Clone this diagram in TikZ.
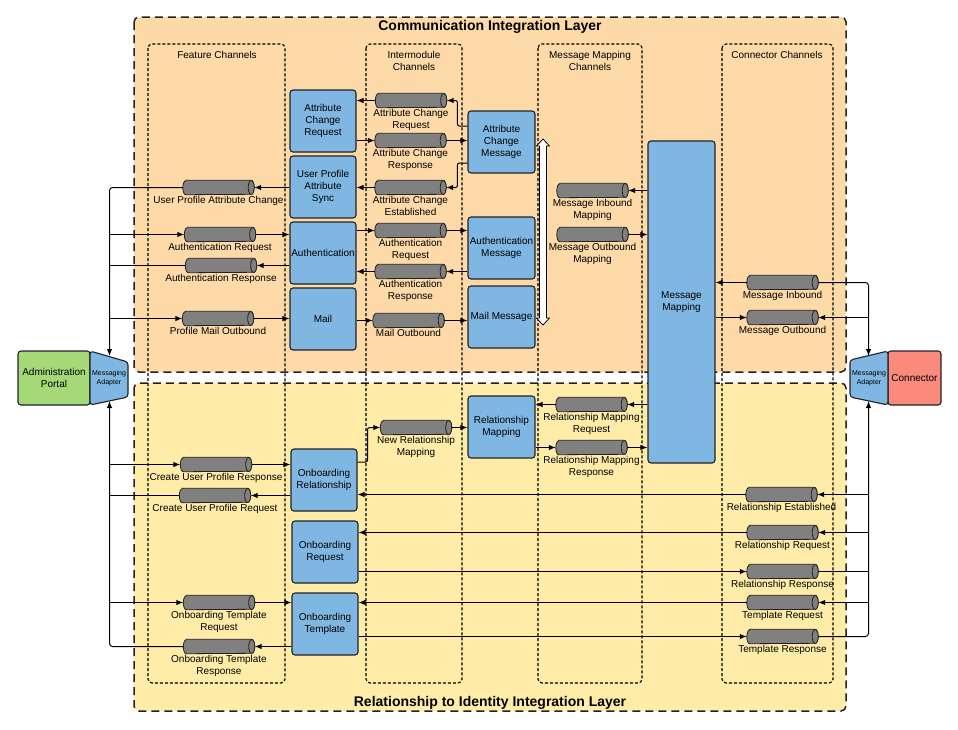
\documentclass[tikz,border=0pt]{standalone}
\usepackage{fontspec}
\setmainfont{Liberation Sans}
\usetikzlibrary{arrows.meta,calc}
\definecolor{commfill}{HTML}{FDDAA8}
\definecolor{relfill}{HTML}{FFECA8}
\definecolor{boxblue}{HTML}{7FB7E2}
\definecolor{portalgreen}{HTML}{A5D978}
\definecolor{connred}{HTML}{F98A7C}
\definecolor{pipegray}{HTML}{808080}
\definecolor{edge}{HTML}{222222}
\newcommand\dfLabel{\fontsize{10}{12}\selectfont}
\newcommand\dfTitle{\fontsize{14}{16}\selectfont\bfseries}
\newcommand\dfTiny{\fontsize{7}{8.5}\selectfont}

\begin{document}
\begin{tikzpicture}[x=1pt,y=-1pt,
  layer/.style={draw=edge, line width=1.5pt, dash pattern=on 8pt off 5pt, rounded corners=5pt},
  column/.style={draw=black, line width=1.1pt, dash pattern=on 3pt off 2pt, rounded corners=4pt},
  module/.style={draw=edge, fill=boxblue, line width=1.1pt, rounded corners=3pt,
    minimum width=66pt, minimum height=62pt, inner sep=1pt, align=center, font=\dfLabel},
  pipe/.style={rectangle, minimum width=71pt, minimum height=14pt, inner sep=0pt, label distance=1.5pt},
  pipebody/.style={draw=edge, fill=pipegray, line width=0.8pt},
  tag/.style={align=center, font=\dfLabel, inner sep=1pt},
  flow/.style={draw=black, line width=1pt, -{Latex[length=7pt,width=5.5pt]}},
  link/.style={draw=black, line width=1pt},
]
\useasboundingbox (0,0) rectangle (958,729);

% integration layers
\draw[layer, fill=commfill] (134,17) rectangle (846,372);
\draw[layer, fill=relfill] (134,383) rectangle (846,711);
\node[font=\dfTitle] (commtitle) at (490,27) {Communication Integration Layer};
\node[font=\dfTitle] (reltitle) at (490,703) {Relationship to Identity Integration Layer};

% channel columns
\draw[column] (148,44) rectangle (285,683);
\draw[column] (366,44) rectangle (462,683);
\draw[column] (538,44) rectangle (642,683);
\draw[column] (722,44) rectangle (833,683);
\node[tag] (hfeat) at (217,55) {Feature Channels};
\node[tag] (hinter) at (414,61) {Intermodule\\Channels};
\node[tag] (hmap) at (590,61) {Message Mapping\\Channels};
\node[tag] (hconn) at (777,55) {Connector Channels};

% portal, connector and their adapters
\node[draw=edge, fill=portalgreen, line width=1.1pt, rounded corners=3pt, minimum width=72pt,
  minimum height=54pt, align=center, font=\dfLabel] (portal) at (54,378) {Administration\\Portal};
\node[draw=edge, fill=connred, line width=1.1pt, rounded corners=3pt, minimum width=53pt,
  minimum height=54pt, font=\dfLabel] (conn) at (914.5,378) {Connector};
\draw[draw=edge, fill=boxblue, line width=1.1pt, rounded corners=3pt]
  (90,351) -- (128,362) -- (128,397) -- (90,405) -- cycle;
\draw[draw=edge, fill=boxblue, line width=1.1pt, rounded corners=3pt]
  (888,351) -- (850,360) -- (850,397) -- (888,405) -- cycle;
\node[font=\dfTiny, align=center, inner sep=0pt] (adl) at (109,378) {Messaging\\Adapter};
\node[font=\dfTiny, align=center, inner sep=0pt] (adr) at (869,378) {Messaging\\Adapter};
\coordinate (lt) at (109.5,356);
\coordinate (lb) at (109.5,401);
\coordinate (rt) at (868.5,356);
\coordinate (rb) at (868.5,401);

% modules
\node[module] (acr)  at (323,121) {Attribute\\Change\\Request};
\node[module] (upas) at (323,187) {User Profile\\Attribute\\Sync};
\node[module] (auth) at (323,253) {Authentication};
\node[module] (mail) at (323,319) {Mail};
\node[module, minimum width=67pt] (acm) at (501.5,142) {Attribute\\Change\\Message};
\node[module, minimum width=67pt] (am)  at (501.5,248) {Authentication\\Message};
\node[module, minimum width=67pt] (mm)  at (501.5,317) {Mail Message};
\node[module, minimum width=67pt, minimum height=322pt] (mmap) at (681.5,302) {Message\\Mapping};
\node[module, minimum width=67pt] (rm)  at (501.5,427) {Relationship\\Mapping};
\node[module] (obrel) at (324,480) {Onboarding\\Relationship};
\node[module] (obreq) at (325,552) {Onboarding\\Request};
\node[module] (obtpl) at (325,624) {Onboarding\\Template};

% channels (placeholders; the cylinders are drawn below)
\node[pipe, label={[tag]below:User Profile Attribute Change}] (upac) at (218.5,187.5) {};
\node[pipe, label={[tag]below:Authentication Request}] (authreqF) at (220,234.5) {};
\node[pipe, label={[tag]below:Authentication Response}] (authrespF) at (221,265.5) {};
\node[pipe, label={[tag]below:Profile Mail Outbound}] (mailF) at (218,318.5) {};
\node[pipe, label={[tag]below:Attribute Change\\Request}] (acreq) at (411,100.5) {};
\node[pipe, label={[tag]below:Attribute Change\\Response}] (acresp) at (410.5,140.5) {};
\node[pipe, label={[tag]below:Attribute Change\\Established}] (acest) at (410.5,187.5) {};
\node[pipe, label={[tag]below:Authentication\\Request}] (authreqI) at (410.5,230.5) {};
\node[pipe, label={[tag]below:Authentication\\Response}] (authrespI) at (410.5,271.5) {};
\node[pipe, label={[tag]below:Mail Outbound}] (mailI) at (408.5,320.5) {};
\node[pipe, label={[tag]below:Message Inbound\\Mapping}] (mib) at (592.5,190.5) {};
\node[pipe, label={[tag]below:Message Outbound\\Mapping}] (mob) at (592.5,234.5) {};
\node[pipe, label={[tag]below:Message Inbound}] (minb) at (782.5,282.5) {};
\node[pipe, label={[tag]below:Message Outbound}] (moutb) at (782.5,317.5) {};
\node[pipe, label={[tag]below:New Relationship\\Mapping}] (nrm) at (416,427.5) {};
\node[pipe, label={[tag]below:Relationship Mapping\\Request}] (rmreq) at (591.5,404.5) {};
\node[pipe, label={[tag]below:Relationship Mapping\\Response}] (rmresp) at (591.5,447.5) {};
\node[pipe, label={[tag]below:Create User Profile Response}] (cupresp) at (216,464.5) {};
\node[pipe, label={[tag]below:Create User Profile Request}] (cupreq) at (215,495.5) {};
\node[pipe, label={[tag]below:Onboarding Template\\Request}] (otreq) at (219,602.5) {};
\node[pipe, label={[tag]below:Onboarding Template\\Response}] (otresp) at (219,646.5) {};
\node[pipe, label={[tag]below:Relationship Established}] (relest) at (781.5,494.5) {};
\node[pipe, label={[tag]below:Relationship Request}] (relreq) at (782.5,532.5) {};
\node[pipe, label={[tag]below:Relationship Response}] (relresp) at (782.5,571.5) {};
\node[pipe, label={[tag]below:Template Request}] (treq) at (782.5,602.5) {};
\node[pipe, label={[tag]below:Template Response}] (tresp) at (782.5,636.5) {};

% cylinder bodies with their end caps
\foreach \p in {upac,authreqF,authrespF,mailF,acreq,acresp,acest,authreqI,authrespI,mailI,
  mib,mob,minb,moutb,nrm,rmreq,rmresp,cupresp,cupreq,otreq,otresp,relest,relreq,relresp,treq,tresp}{
  \draw[pipebody] ([xshift=3pt]\p.north west) -- ([xshift=-3pt]\p.north east)
    arc[start angle=90, end angle=-90, x radius=3pt, y radius=7pt]
    -- ([xshift=3pt]\p.south west)
    arc[start angle=270, end angle=90, x radius=3pt, y radius=7pt] -- cycle;
  \draw[pipebody] ([xshift=-3pt]\p.east) ellipse[x radius=3pt, y radius=7pt];
}

% bidirectional mapping arrow
\draw[draw=black, fill=white, line width=0.8pt, line join=round]
  (543,139) -- (549.5,146) -- (546.5,146) -- (546.5,318) -- (549.5,318) -- (543,325)
  -- (536.5,318) -- (539.5,318) -- (539.5,146) -- (536.5,146) -- cycle;

% portal-side bus
\draw[flow, rounded corners=3pt] (upac.west) -| (lt);
\draw[flow] (authreqF.west -| lt) -- (authreqF.west);
\draw[link] (authrespF.west) -- (authrespF.west -| lt);
\draw[flow] (mailF.west -| lt) -- (mailF.west);
\draw[flow, rounded corners=3pt] (otresp.west) -| (lb);
\draw[flow] (cupresp.west -| lb) -- (cupresp.west);
\draw[link] (cupreq.west) -- (cupreq.west -| lb);
\draw[flow] (otreq.west -| lb) -- (otreq.west);

% connector-side bus
\draw[flow, rounded corners=3pt] (minb.east) -| (rt);
\draw[flow] (moutb.east -| rt) -- (moutb.east);
\draw[flow, rounded corners=3pt] (tresp.east) -| (rb);
\draw[flow] (relest.east -| rb) -- (relest.east);
\draw[flow] (relreq.east -| rb) -- (relreq.east);
\draw[link] (relresp.east) -- (relresp.east -| rb);
\draw[flow] (treq.east -| rb) -- (treq.east);

% feature channels
\draw[flow] (upac.east -| upas.west) -- (upac.east);
\draw[flow] (authreqF.east) -- (authreqF.east -| auth.west);
\draw[flow] (authrespF.east -| auth.west) -- (authrespF.east);
\draw[flow] (mailF.east) -- (mailF.east -| mail.west);
\draw[flow] (cupresp.east) -- (cupresp.east -| obrel.west);
\draw[flow] (cupreq.east -| obrel.west) -- (cupreq.east);
\draw[flow] (otreq.east) -- (otreq.east -| obtpl.west);
\draw[flow] (otresp.east -| obtpl.west) -- (otresp.east);

% intermodule channels
\draw[flow] (acreq.west) -- (acreq.west -| acr.east);
\draw[flow, rounded corners=2pt] ([yshift=16pt]acm.west) -- ++(-10,0) |- (acreq.east);
\draw[flow] (acresp.west -| acr.east) -- (acresp.west);
\draw[flow] (acresp.east) -- (acresp.east -| acm.west);
\draw[flow, rounded corners=2pt] ([yshift=-21pt]acm.west) -- ++(-10,0) |- (acest.east);
\draw[flow] (acest.west) -- (acest.west -| upas.east);
\draw[flow] (authreqI.west -| auth.east) -- (authreqI.west);
\draw[flow] (authreqI.east) -- (authreqI.east -| am.west);
\draw[flow] (authrespI.east -| am.west) -- (authrespI.east);
\draw[flow] (authrespI.west) -- (authrespI.west -| auth.east);
\draw[flow] (mailI.west -| mail.east) -- (mailI.west);
\draw[flow] (mailI.east) -- (mailI.east -| mm.west);
\draw[flow, rounded corners=2pt] ([yshift=18pt]obrel.east) -- ++(10,0) |- (nrm.west);
\draw[flow] (nrm.east) -- (nrm.east -| rm.west);

% message mapping channels
\draw[flow] (mib.east -| mmap.west) -- (mib.east);
\draw[flow] (mob.east) -- (mob.east -| mmap.west);
\draw[flow] (rmreq.east -| mmap.west) -- (rmreq.east);
\draw[flow] (rmreq.west) -- (rmreq.west -| rm.east);
\draw[flow] (rmresp.west -| rm.east) -- (rmresp.west);
\draw[flow] (rmresp.east) -- (rmresp.east -| mmap.west);

% connector channels
\draw[flow] (minb.west) -- (minb.west -| mmap.east);
\draw[flow] (moutb.west -| mmap.east) -- (moutb.west);
\draw[flow] (relest.west) -- (relest.west -| obrel.east);
\draw[flow] (relreq.west) -- (relreq.west -| obreq.east);
\draw[flow] (relresp.west -| obreq.east) -- (relresp.west);
\draw[flow] (treq.west) -- (treq.west -| obtpl.east);
\draw[flow] (tresp.west -| obtpl.east) -- (tresp.west);
\end{tikzpicture}
\end{document}
